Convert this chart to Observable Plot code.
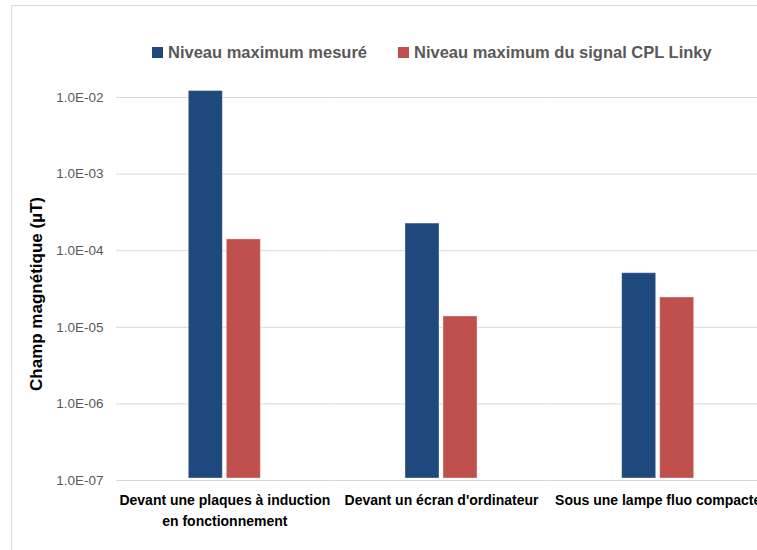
<!DOCTYPE html>
<html><head><meta charset="utf-8">
<script src="https://cdn.jsdelivr.net/npm/d3@7"></script>
<script src="https://cdn.jsdelivr.net/npm/@observablehq/plot@0.6"></script>
<style>
body{margin:0;overflow:hidden;background:#fff;font-family:"Liberation Sans",Arial,sans-serif;}
#wrap{position:relative;width:757px;height:550px;overflow:hidden;background:#fff;}
#frame{position:absolute;left:11px;top:5px;width:800px;height:600px;border-left:1px solid #d9d9d9;border-top:1px solid #d9d9d9;}
#chart{position:absolute;left:0;top:0;width:780px;}
#chart svg{max-width:none !important;}
#legend{position:absolute;top:43px;left:152px;height:20px;}
.item{position:absolute;top:0;display:flex;align-items:center;white-space:nowrap;font-weight:bold;font-size:16.5px;color:#595959;}
.sw{width:11px;height:11px;margin-right:5px;}
#ylabel{position:absolute;left:-113px;top:284px;width:300px;text-align:center;transform:rotate(-90deg);font-weight:bold;font-size:17px;color:#000;}
</style></head>
<body>
<div id="wrap"><div id="frame"></div><div id="chart"></div><div id="legend"></div><div id="ylabel">Champ magnétique (µT)</div></div>
<script>
const categories = ["Devant une plaques à induction en fonctionnement", "Devant un écran d'ordinateur", "Sous une lampe fluo compacte"];
const categoryLabels = ["Devant une plaques à induction\nen fonctionnement", "Devant un écran d'ordinateur", "Sous une lampe fluo compacte"];
const seriesNames = ["Niveau maximum mesuré", "Niveau maximum du signal CPL Linky"];
const measured = [1.29e-2, 2.4e-4, 5.4e-5];
const linky = [1.49e-4, 1.47e-5, 2.6e-5];
const yTicks = [1e-7, 1e-6, 1e-5, 1e-4, 1e-3, 1e-2];
const colors = ["#1f497d", "#c0504d"];

const rows = categories.flatMap((c, i) => [
  {cat: c, series: seriesNames[0], value: measured[i]},
  {cat: c, series: seriesNames[1], value: linky[i]}
]);
const fmt = v => { const e = Math.round(Math.log10(v)); return "1.0E" + (e < 0 ? "-" : "+") + String(Math.abs(e)).padStart(2, "0"); };

const plot = Plot.plot({
  width: 770, height: 550,
  marginLeft: 116, marginRight: 4, marginTop: 97, marginBottom: 70,
  style: {fontFamily: "'Liberation Sans', Arial, sans-serif", background: "transparent", maxWidth: "none", overflow: "visible"},
  fx: {domain: categories, padding: 0, round: false, label: null},
  x: {domain: seriesNames, paddingInner: 0, paddingOuter: 1.85, round: false, axis: null},
  y: {type: "log", domain: [yTicks[0], yTicks[yTicks.length - 1]], label: null},
  color: {domain: seriesNames, range: colors},
  marks: [
    Plot.gridY(yTicks, {stroke: "#d9d9d9", strokeOpacity: 1, strokeWidth: 1}),
    Plot.barY(rows, {fx: "cat", x: "series", y1: () => yTicks[0], y2: "value", fill: "series", inset: 2, stroke: "#ffffff", strokeOpacity: 0.35, strokeWidth: 1}),
    Plot.axisY(yTicks, {tickSize: 0, tickPadding: 13, tickFormat: fmt, fill: "#595959", fontSize: 13.5, label: null}),
    Plot.axisFx({anchor: "bottom", tickSize: 0, tickPadding: 10, tickFormat: d => categoryLabels[categories.indexOf(d)], fontWeight: "bold", fontSize: 14, lineHeight: 1.5, fill: "#000", label: null})
  ]
});
document.getElementById("chart").appendChild(plot);

const legend = document.getElementById("legend");
const offsets = [0, 246];
seriesNames.forEach((s, i) => {
  const it = document.createElement("div");
  it.className = "item";
  it.style.left = offsets[i] + "px";
  it.innerHTML = `<span class="sw" style="background:${colors[i]}"></span><span>${s}</span>`;
  legend.appendChild(it);
});
</script>
</body></html>
